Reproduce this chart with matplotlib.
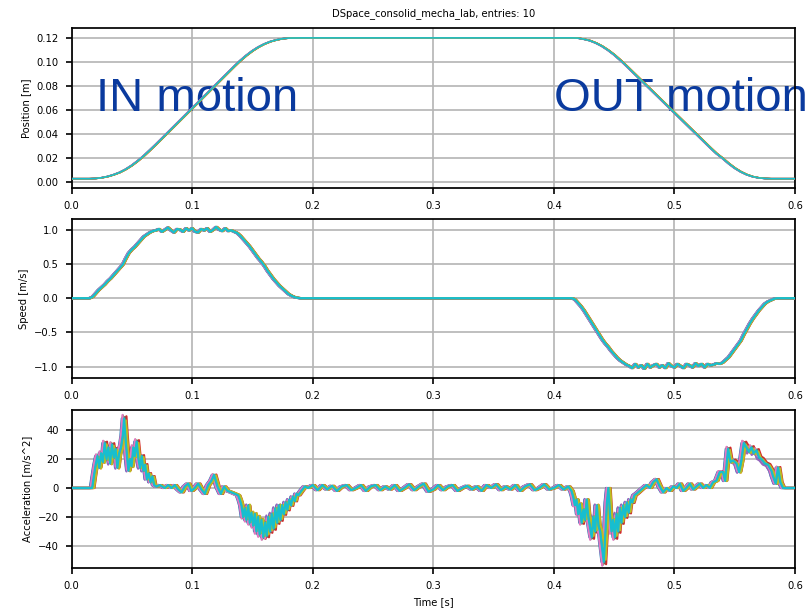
import numpy as np
import matplotlib
matplotlib.use("Agg")
import matplotlib.pyplot as plt

# ---- measured profiles (time [s], value) ----
pos_t = [0.0, 0.015, 0.02, 0.025, 0.03, 0.035, 0.04, 0.045, 0.05, 0.055, 0.06, 0.065,
         0.07, 0.075, 0.08, 0.09, 0.1, 0.11, 0.12, 0.13, 0.135, 0.14, 0.145, 0.15,
         0.155, 0.16, 0.165, 0.17, 0.175, 0.18, 0.185, 0.19, 0.415, 0.42, 0.425,
         0.43, 0.435, 0.44, 0.445, 0.45, 0.455, 0.46, 0.465, 0.47, 0.475, 0.48,
         0.49, 0.5, 0.51, 0.52, 0.53, 0.535, 0.54, 0.545, 0.55, 0.555, 0.56, 0.565,
         0.57, 0.575, 0.58, 0.585, 0.6]
pos_m = [0.0025, 0.0025, 0.0027, 0.0033, 0.0043, 0.0058, 0.0077, 0.0103, 0.0135,
         0.0173, 0.0215, 0.0262, 0.0310, 0.0360, 0.0410, 0.0510, 0.0610, 0.0710,
         0.0810, 0.0910, 0.0960, 0.1008, 0.1051, 0.1089, 0.1121, 0.1147, 0.1167,
         0.1181, 0.1191, 0.1196, 0.1197, 0.1198, 0.1198, 0.1196, 0.1187, 0.1175,
         0.1155, 0.1129, 0.1096, 0.1058, 0.1014, 0.0967, 0.0918, 0.0869, 0.0820,
         0.0771, 0.0673, 0.0575, 0.0477, 0.0379, 0.0281, 0.0234, 0.0195, 0.0152,
         0.0114, 0.0083, 0.0059, 0.0042, 0.0032, 0.0027, 0.0025, 0.0025, 0.0025]

spd_t = [0.0, 0.015, 0.0175, 0.02, 0.0225, 0.025, 0.0275, 0.03, 0.0325, 0.035, 0.0375,
         0.04, 0.0425, 0.045, 0.0475, 0.05, 0.0525, 0.055, 0.0575, 0.06, 0.0625, 0.065,
         0.0675, 0.07, 0.0725, 0.075, 0.0775, 0.08, 0.0825, 0.085, 0.0875, 0.09, 0.0925,
         0.095, 0.0975, 0.1, 0.1025, 0.105, 0.1075, 0.11, 0.1125, 0.115, 0.1175, 0.12,
         0.1225, 0.125, 0.1275, 0.13, 0.1325, 0.135, 0.1375, 0.14, 0.1425, 0.145,
         0.1475, 0.15, 0.1525, 0.155, 0.1575, 0.16, 0.1625, 0.165, 0.1675, 0.17,
         0.1725, 0.175, 0.1775, 0.18, 0.1825, 0.185, 0.1875, 0.19, 0.415, 0.4175,
         0.42, 0.4225, 0.425, 0.4275, 0.43, 0.4325, 0.435, 0.4375, 0.44, 0.4425,
         0.445, 0.4475, 0.45, 0.4525, 0.455, 0.4575, 0.46, 0.4625, 0.465, 0.4675,
         0.47, 0.4725, 0.475, 0.4775, 0.48, 0.4825, 0.485, 0.4875, 0.49, 0.4925,
         0.495, 0.4975, 0.5, 0.5025, 0.505, 0.5075, 0.51, 0.5125, 0.515, 0.5175,
         0.52, 0.5225, 0.525, 0.5275, 0.53, 0.5325, 0.535, 0.5375, 0.54, 0.5425,
         0.545, 0.5475, 0.55, 0.5525, 0.555, 0.5575, 0.56, 0.5625, 0.565, 0.5675,
         0.57, 0.5725, 0.575, 0.5775, 0.58, 0.5825, 0.585, 0.6]
spd_ms = [0.0, 0.0, 0.02, 0.07, 0.12, 0.16, 0.20, 0.25, 0.29, 0.34, 0.39,
          0.44, 0.49, 0.58, 0.66, 0.71, 0.75, 0.80, 0.85, 0.90, 0.93, 0.96,
          0.98, 0.99, 1.01, 0.97, 1.00, 1.03, 0.99, 0.96, 1.01, 1.00, 0.97,
          1.02, 0.99, 1.02, 0.97, 0.96, 1.01, 0.99, 1.02, 0.97, 1.00, 1.04,
          1.00, 0.98, 1.02, 0.98, 0.99, 0.97, 0.95, 0.91, 0.86, 0.81,
          0.76, 0.70, 0.64, 0.58, 0.53, 0.47, 0.40, 0.34, 0.28, 0.23,
          0.18, 0.14, 0.10, 0.06, 0.035, 0.015, 0.005, 0.0, 0.0, -0.02,
          -0.07, -0.12, -0.18, -0.25, -0.32, -0.39, -0.46, -0.53, -0.60, -0.66,
          -0.71, -0.77, -0.82, -0.87, -0.91, -0.94, -0.97, -0.99, -1.02, -0.96,
          -1.01, -0.98, -1.03, -0.96, -1.01, -0.98, -0.96, -1.01, -0.98, -1.02,
          -0.95, -0.99, -1.01, -0.96, -0.99, -1.02, -0.96, -0.98, -1.01, -0.95,
          -0.99, -0.96, -1.01, -0.96, -0.98, -0.97, -0.95, -0.96, -0.94, -0.90,
          -0.86, -0.80, -0.74, -0.68, -0.62, -0.53, -0.45, -0.37, -0.30, -0.24,
          -0.18, -0.13, -0.08, -0.05, -0.03, -0.01, 0.0, 0.0]

acc_t = [0.0, 0.0171, 0.0185, 0.0200, 0.0215, 0.0230, 0.0245, 0.0260, 0.0275, 0.0290,
         0.0305, 0.0320, 0.0335, 0.0350, 0.0365, 0.0380, 0.0395, 0.0410, 0.0425,
         0.0436, 0.0448, 0.0460, 0.0472, 0.0485, 0.0498, 0.0512, 0.0525, 0.0540,
         0.0555, 0.0568, 0.0582, 0.0596, 0.0610, 0.0625, 0.0640, 0.0655, 0.0670,
         0.0685, 0.0704, 0.0732, 0.0773, 0.0801, 0.0829, 0.0856, 0.0884, 0.0912,
         0.0939, 0.0967, 0.0994, 0.1022, 0.105, 0.1077, 0.1105, 0.1133, 0.116,
         0.1182, 0.121, 0.1238, 0.1265, 0.1293, 0.1326, 0.1354, 0.1381, 0.1395,
         0.1409, 0.1423, 0.1436, 0.1450, 0.1465, 0.1478, 0.1492, 0.1506, 0.1520,
         0.1533, 0.1547, 0.1560, 0.1575, 0.1590, 0.1605, 0.1618, 0.1632, 0.1646,
         0.1660, 0.1675, 0.1690, 0.1705, 0.1718, 0.1732, 0.1746, 0.1760, 0.1775,
         0.1790, 0.1805, 0.1820, 0.1835, 0.1851, 0.1866, 0.1880, 0.1906, 0.1934,
         0.1962,
         0.2, 0.204, 0.208, 0.212, 0.216, 0.22, 0.224, 0.228, 0.232, 0.236, 0.24,
         0.244, 0.248, 0.252, 0.256, 0.26, 0.264, 0.268, 0.272, 0.276, 0.28, 0.284,
         0.288, 0.292, 0.296, 0.3, 0.304, 0.308, 0.312, 0.316, 0.32, 0.324, 0.328,
         0.332, 0.336, 0.34, 0.344, 0.348, 0.352, 0.356, 0.36, 0.364, 0.368, 0.372,
         0.376, 0.38, 0.384, 0.388, 0.392, 0.396, 0.4, 0.404, 0.408, 0.412,
         0.4146, 0.4160, 0.4174, 0.4188, 0.4202, 0.4215, 0.4230, 0.4245, 0.4258,
         0.4272, 0.4286, 0.4300, 0.4314, 0.4328, 0.4342, 0.4356, 0.4370, 0.4384,
         0.4398, 0.4414, 0.4428, 0.4440, 0.4452, 0.4465, 0.4478, 0.4492, 0.4506,
         0.4520, 0.4533, 0.4547, 0.4560, 0.4575, 0.4590, 0.4605, 0.4620, 0.4635,
         0.4650, 0.4668, 0.4685, 0.4713,
         0.474, 0.4768, 0.4796, 0.4823, 0.4851, 0.4878, 0.4906, 0.4934,
         0.4961, 0.4989, 0.5017, 0.5044, 0.5072, 0.5099, 0.5127, 0.5155, 0.5182,
         0.521, 0.5238, 0.5265, 0.5293, 0.532, 0.5348, 0.5376, 0.5403, 0.542,
         0.5445, 0.5464, 0.5486, 0.5514, 0.5536, 0.5555, 0.5575, 0.5597, 0.5619,
         0.5638, 0.5657, 0.568, 0.5702, 0.5721, 0.5749, 0.5776, 0.5804, 0.5818,
         0.584, 0.5859, 0.5878, 0.59, 0.6]
acc_ms2 = [0, 0, 8, 16, 22, 14, 24, 18, 31, 20,
           28, 17, 30, 21, 27, 14, 24, 28, 36,
           48, 34, 22, 12, 20, 15, 28, 22, 32,
           20, 14, 22, 12, 16, 6, 10, 4, 8,
           2, 1, 2, 0, 2, 0, 2, -1, -3,
           1, 3, -2, 0, 3, -1, -4, 2, 5,
           9, 1, -4, 1, -2, -3, -4, -5, -8,
           -12, -20, -14, -22, -12, -24, -17, -26, -18,
           -30, -20, -32, -22, -34, -24, -33, -20, -30,
           -18, -28, -14, -24, -12, -22, -12, -18, -10,
           -15, -8, -12, -6, -9, -4, -5, -2, 1,
           0,
           2, -1.5, 2, -1, 1.5, -2, 1, 2, -1.5, 0, 2,
           -2, 1, 2, -1.5, 1, -1, 2, -2, 0, 2.5, -1.5,
           1, 3, -2.5, -1, 2, -1.5, 1, 2, -2, 0, 1.5,
           -1, 1, -2, 2, 0, 2.5, -1.5, 1, -1, 2, -2,
           1, 2.5, -1.5, 0, 2.5, -1, 0, 2, -1, 1,
           -2, -6, -12, -8, -18, -11, -24, -15, -22,
           -8, -20, -27, -34, -20, -30, -12, -26, -30,
           -40, -51, -30, -10, 0, -18, -30, -22, -34,
           -18, -30, -14, -24, -12, -20, -10, -17, -8,
           -10, -5, -4, -2,
           0, 2, 0, 4, 6, 1, -3, 0,
           -2, 1, 0, 3, -2, 0, 3, -1, 1,
           3, 0, 2, 0, 4, 5, 11, 11, 5,
           27, 18, 19, 17, 11, 19, 31, 28, 25,
           28, 24, 26, 21, 20, 17, 16, 12, 8,
           3, 14, 4, 0, 0]

# per-run timing offset [s] and acceleration gain for the 10 runs
entry_lag = [-0.0012, 0.0008, -0.0006, 0.0012, -0.001, 0.0005, -0.0008, 0.0003, 0.001, 0.0]
entry_gain = [1.0, 0.96, 1.04, 1.03, 0.95, 1.02, 1.05, 0.98, 0.97, 1.0]

title = "DSpace_consolid_mecha_lab, entries: 10"
x_ticks = [0.0, 0.1, 0.2, 0.3, 0.4, 0.5, 0.6]

plt.rcParams.update({
    "font.family": ["DejaVu Sans"],
    "font.size": 7.2,
    "axes.linewidth": 1.25,
    "xtick.direction": "out",
    "ytick.direction": "out",
    "xtick.major.size": 4.3,
    "ytick.major.size": 4.3,
    "xtick.major.width": 1.2,
    "ytick.major.width": 1.2,
})

colors = plt.get_cmap("tab10").colors
fig = plt.figure(figsize=(8.1, 6.12), dpi=100)
left, width = 0.0883, 0.8932
ax1 = fig.add_axes([left, 0.6933, width, 0.2605])
ax2 = fig.add_axes([left, 0.3829, width, 0.2588])
ax3 = fig.add_axes([left, 0.0714, width, 0.2587])

pt, pv = np.array(pos_t), np.array(pos_m)
st, sv = np.array(spd_t), np.array(spd_ms)
at, av = np.array(acc_t), np.array(acc_ms2)

for k in range(10):
    c = colors[k]
    lag = entry_lag[k]
    ax1.plot(pt + lag * 0.5, pv, color=c, lw=1.1, zorder=3)
    ax2.plot(st + lag * 0.7, sv, color=c, lw=1.6, zorder=3)
    ax3.plot(at + lag * 1.6, av * entry_gain[k], color=c, lw=1.6, zorder=3)

ax1.set_ylim(-0.0050, 0.1278)
ax1.set_yticks([0.0, 0.02, 0.04, 0.06, 0.08, 0.10, 0.12])
ax1.set_yticklabels(["0.00", "0.02", "0.04", "0.06", "0.08", "0.10", "0.12"])
ax1.set_ylabel("Position [m]")
ax1.set_title(title, fontsize=7.2, pad=9)

ax2.set_ylim(-1.16, 1.152)
ax2.set_yticks([-1.0, -0.5, 0.0, 0.5, 1.0])
ax2.set_ylabel("Speed [m/s]")

ax3.set_ylim(-55.4, 53.8)
ax3.set_yticks([-40, -20, 0, 20, 40])
ax3.set_ylabel("Acceleration [m/s^2]")
ax3.set_xlabel("Time [s]")

for ax in (ax1, ax2, ax3):
    ax.set_xlim(0.0, 0.6)
    ax.set_xticks(x_ticks)
    ax.grid(True, color="#b4b4b4", lw=1.2)
    ax.set_axisbelow(True)
    ax.tick_params(top=False, right=False, pad=5)

txt_kw = dict(fontsize=34, color="#0a3a9e", family=["Liberation Sans", "DejaVu Sans"],
              va="baseline", ha="left", clip_on=False, zorder=2)
ax1.text(0.02, 0.0585, "IN motion", **txt_kw)
ax1.text(0.40, 0.0585, "OUT motion", **txt_kw)

fig.savefig("out.png", dpi=100)
